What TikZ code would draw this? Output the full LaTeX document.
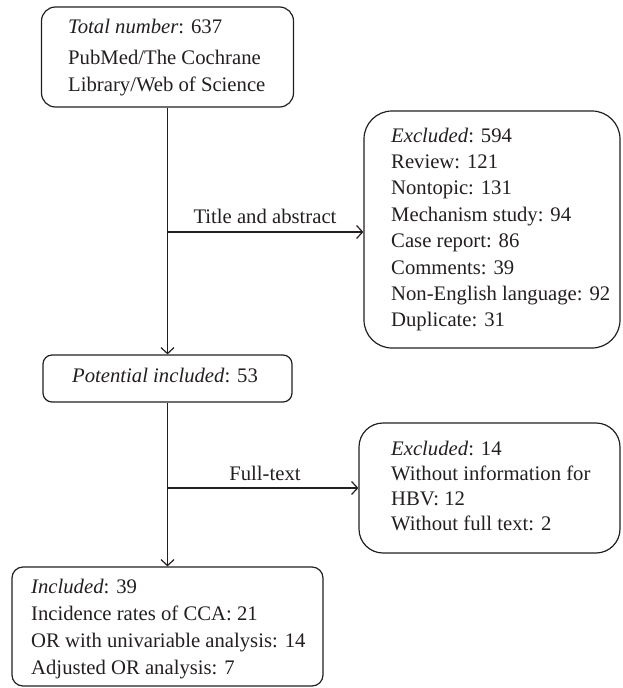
\documentclass[tikz,border=0pt]{standalone}
\usepackage{fontspec}
\setmainfont{Liberation Serif}
\usetikzlibrary{arrows.meta}
\definecolor{ink}{HTML}{231F20}
\begin{document}
\begin{tikzpicture}[x=1pt,y=-1pt,
  box/.style={draw=ink, line width=1.2pt, inner sep=0pt},
  txt/.style={inner sep=0pt, anchor=base west, text=ink},
  lbl/.style={inner sep=0pt, anchor=base, text=ink, font=\fontsize{20.7}{26.5}\selectfont},
  arr/.style={draw=ink, line width=1.2pt, -{Straight Barb[length=6pt,width=13pt,line width=1.2pt]}}]
\useasboundingbox (0,0) rectangle (622,688);
% boxes
\node[box, rounded corners=14pt, minimum width=252pt, minimum height=100pt] (top) at (167.5,57) {};
\node[box, rounded corners=28pt, minimum width=256pt, minimum height=237pt] (exc1) at (492,229.5) {};
\node[box, rounded corners=9pt, minimum width=249pt, minimum height=47pt] (pot) at (167.5,378.5) {};
\node[box, rounded corners=24pt, minimum width=261pt, minimum height=130pt] (exc2) at (489.5,488) {};
\node[box, rounded corners=11pt, minimum width=311pt, minimum height=119pt] (inc) at (167.5,626.5) {};
% texts
\node[txt, font=\fontsize{20.7}{26.5}\selectfont] (topt) at (68,33)
  {\begin{tabular}[t]{@{}l@{}}\textit{Total number}: 637\\[5.5pt] PubMed/The Cochrane\\ Library/Web of Science\end{tabular}};
\node[txt, font=\fontsize{20.7}{26.4}\selectfont] (exc1t) at (391,142)
  {\begin{tabular}[t]{@{}l@{}}\textit{Excluded}: 594\\ Review: 121\\ Nontopic: 131\\ Mechanism study: 94\\ Case report: 86\\ Comments: 39\\ Non-English language: 92\\ Duplicate: 31\end{tabular}};
\node[lbl] (pott) at (165,382) {\textit{Potential included}: 53};
\node[txt, font=\fontsize{20.7}{25}\selectfont] (exc2t) at (391,455)
  {\begin{tabular}[t]{@{}l@{}}\textit{Excluded}: 14\\ Without information for\\ HBV: 12\\ Without full text: 2\end{tabular}};
\node[txt, font=\fontsize{20.7}{27.3}\selectfont] (inct) at (31,593)
  {\begin{tabular}[t]{@{}l@{}}\textit{Included}: 39\\ Incidence rates of CCA: 21\\ OR with univariable analysis: 14\\ Adjusted OR analysis: 7\end{tabular}};
% connectors
\draw[arr] (top.south) -- (pot.north);
\draw[arr] (pot.south) -- (inc.north);
\coordinate (j1) at (167.5,232);
\coordinate (j2) at (167.5,488);
\draw[arr] (j1) -- (j1 -| exc1.west);
\draw[arr] (j2) -- (j2 -| exc2.west);
\node[lbl] (l1) at (265,223) {Title and abstract};
\node[lbl] (l2) at (265,480) {Full-text};
\end{tikzpicture}
\end{document}
